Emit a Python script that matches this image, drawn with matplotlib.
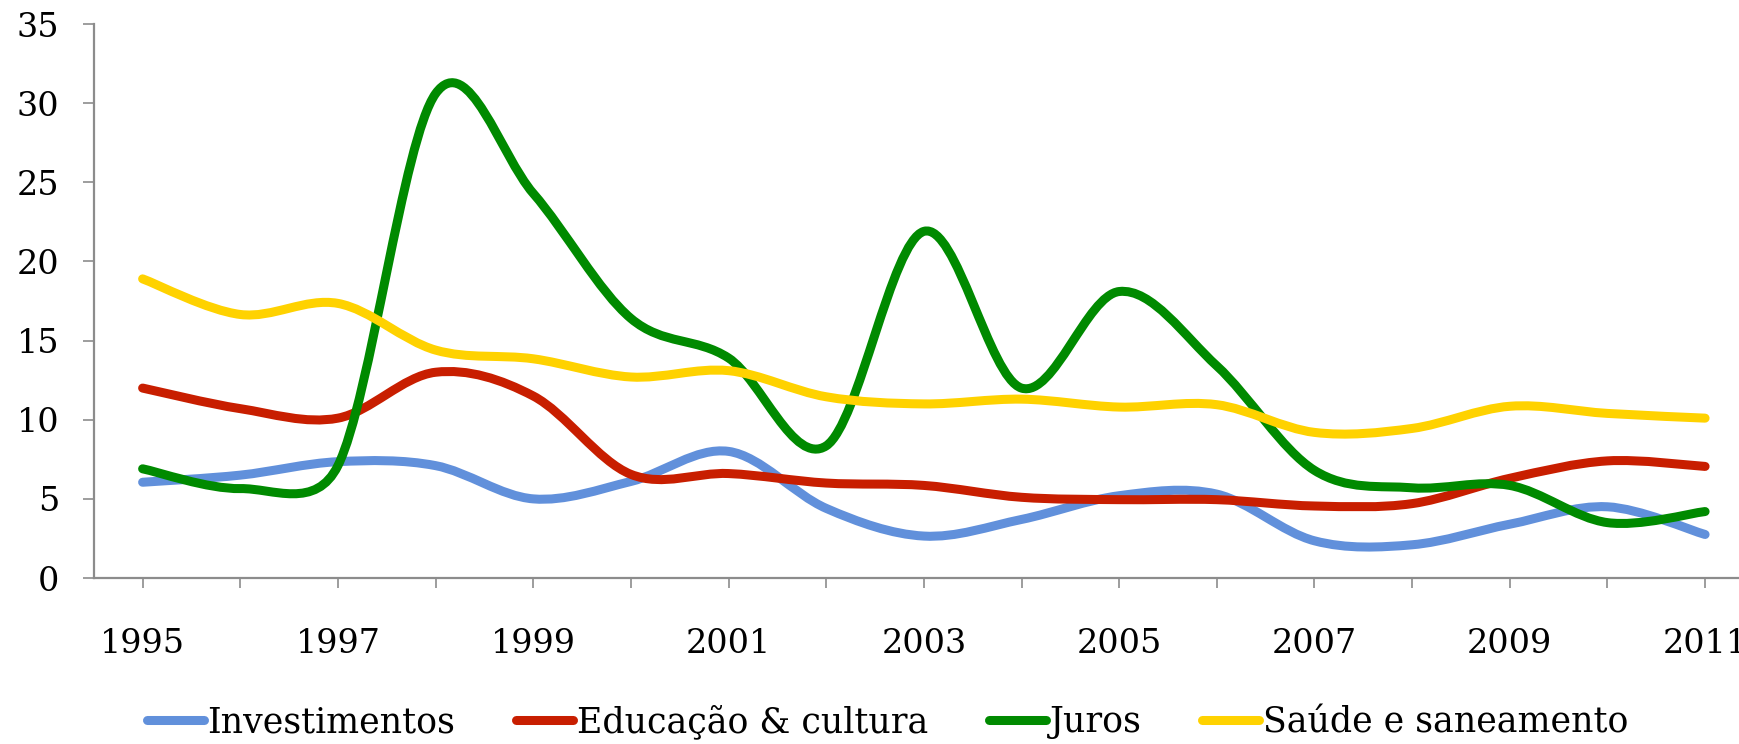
import matplotlib
matplotlib.use('Agg')
import numpy as np
from matplotlib import pyplot as plt
from matplotlib.path import Path
from matplotlib.patches import PathPatch
from matplotlib.lines import Line2D

years = list(range(1995, 2012))

investimentos = [6.05, 6.5, 7.35, 7.1, 5.0, 6.1, 8.0, 4.4, 2.65, 3.7, 5.2, 5.3, 2.35, 2.1, 3.4, 4.5, 2.75]
educacao = [12.0, 10.7, 10.1, 13.0, 11.5, 6.55, 6.6, 6.0, 5.85, 5.1, 4.95, 4.95, 4.55, 4.7, 6.3, 7.4, 7.05]
juros = [6.9, 5.65, 7.1, 30.6, 24.3, 16.4, 13.9, 8.35, 21.9, 12.0, 18.1, 13.4, 6.8, 5.7, 5.85, 3.5, 4.2]
saude = [18.9, 16.65, 17.35, 14.4, 13.85, 12.7, 13.1, 11.45, 11.0, 11.3, 10.8, 10.95, 9.2, 9.45, 10.85, 10.4, 10.1]

series_names = ['Investimentos', 'Educação & cultura', 'Juros', 'Saúde e saneamento']
series_values = [investimentos, educacao, juros, saude]
series_colors = ['#6190DB', '#C81E00', '#008A00', '#FFD200']

FONT = 'DejaVu Serif'
LW = 6.5


def smoothPath(ax, xs, ys):
    '''
    Bezier path through the points, as a spreadsheet draws a smoothed line:
    control arm = tangent / 6, but never longer than half the segment (screen space)
    '''
    pts = ax.transData.transform(np.column_stack([xs, ys]))
    n = len(pts)
    verts = [pts[0]]
    codes = [Path.MOVETO]
    for i in range(n - 1):
        p0 = pts[max(i - 1, 0)]
        p1 = pts[i]
        p2 = pts[i + 1]
        p3 = pts[min(i + 2, n - 1)]
        d12 = np.hypot(*(p2 - p1))
        d02 = np.hypot(*(p2 - p0))
        d13 = np.hypot(*(p3 - p1))
        f1 = 1 / 6 if d02 / 6 < d12 / 2 else d12 / (2 * d02)
        f2 = 1 / 6 if d13 / 6 < d12 / 2 else d12 / (2 * d13)
        verts += [p1 + f1 * (p2 - p0), p2 - f2 * (p3 - p1), p2]
        codes += [Path.CURVE4] * 3
    verts = ax.transData.inverted().transform(np.array(verts))
    return Path(verts, codes)


fig = plt.figure(figsize=(17.4, 7.44), dpi=100)
ax = fig.add_axes([0.0539, 0.2231, 0.9541, 0.7446])
ax.set_xlim(1994.5, 2011.5)
ax.set_ylim(0, 35)

handles = []
for name, vals, color in zip(series_names, series_values, series_colors):
    patch = PathPatch(smoothPath(ax, years, vals), facecolor='none', edgecolor=color,
                      lw=LW, capstyle='round', joinstyle='round')
    ax.add_patch(patch)
    handles.append(Line2D([], [], color=color, lw=LW, solid_capstyle='round', label=name))

for side in ['top', 'right']:
    ax.spines[side].set_visible(False)
for side in ['left', 'bottom']:
    ax.spines[side].set_color('#8c8c8c')
    ax.spines[side].set_linewidth(1.6)

ax.set_xticks(years)
ax.set_xticklabels([str(y) if (y - 1995) % 2 == 0 else '' for y in years])
ax.set_yticks(range(0, 36, 5))
ax.tick_params(axis='x', length=7, width=1.2, color='#8c8c8c', pad=29,
               labelsize=24)
ax.tick_params(axis='y', length=8, width=1.2, color='#8c8c8c', pad=17,
               labelsize=24)
for lab in ax.get_xticklabels() + ax.get_yticklabels():
    lab.set_fontfamily(FONT)

fig.legend(handles=handles, loc='center', bbox_to_anchor=(0.510, 0.030), ncol=4,
           frameon=False, prop={'family': FONT, 'size': 25},
           handlelength=1.65, handletextpad=0.1, columnspacing=1.75)

fig.savefig('out.png', dpi=100)
